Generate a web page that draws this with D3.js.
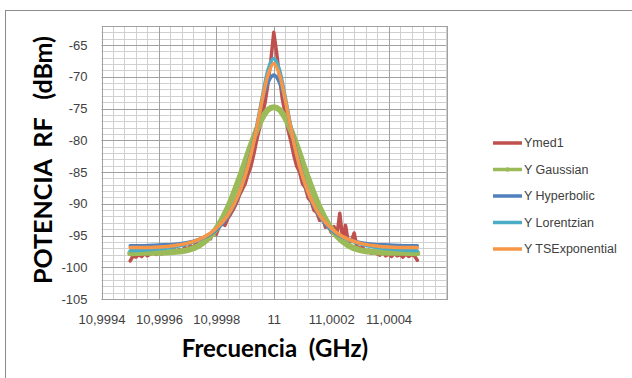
<!DOCTYPE html>
<html>
<head>
<meta charset="utf-8">
<script src="https://cdn.jsdelivr.net/npm/d3@7"></script>
<style>
  html, body { margin: 0; padding: 0; background: #fff; }
  svg { display: block; }
</style>
</head>
<body>
<div id="chart"></div>
<script>
// Measured spectrum (GHz) and level (dBm)
const measFreq = [
  10.99950, 10.99951, 10.99952, 10.99953, 10.99954, 10.99955, 10.99956, 10.99957, 10.99958, 10.99959,
  10.99960, 10.99961, 10.99962, 10.99963, 10.99964, 10.99965, 10.99966, 10.99967, 10.99968, 10.99969,
  10.99970, 10.99971, 10.99972, 10.99973, 10.99974, 10.99975, 10.99976, 10.99977, 10.99978, 10.99979,
  10.99980, 10.99981, 10.99982, 10.99983, 10.99984, 10.99985, 10.99986, 10.99987, 10.99988, 10.99989,
  10.99990, 10.99991, 10.99992, 10.99993, 10.99994, 10.99995, 10.99996, 10.99997, 10.99998, 10.99999,
  11.00000,
  11.00001, 11.00002, 11.00003, 11.00004, 11.00005, 11.00006, 11.00007, 11.00008, 11.00009, 11.00010,
  11.00011, 11.00012, 11.00013, 11.00014, 11.00015, 11.00016, 11.00017, 11.00018, 11.00019, 11.00020,
  11.00021, 11.00022, 11.00023, 11.00024, 11.00025, 11.00026, 11.00027, 11.00028, 11.00029, 11.00030,
  11.00031, 11.00032, 11.00033, 11.00034, 11.00035, 11.00036, 11.00037, 11.00038, 11.00039, 11.00040,
  11.00041, 11.00042, 11.00043, 11.00044, 11.00045, 11.00046, 11.00047, 11.00048, 11.00049, 11.00050
];
const ymed1 = [
  -99.0, -98.2, -98.4, -98.0, -98.3, -97.8, -98.2, -97.9, -97.6, -98.0,
  -97.7, -97.9, -97.4, -97.8, -97.5, -97.0, -97.6, -97.2, -97.5, -96.9,
  -97.1, -96.6, -96.9, -96.2, -96.6, -95.8, -96.1, -95.2, -95.5, -94.4,
  -94.8, -93.6, -93.0, -93.4, -92.3, -91.6, -90.8, -89.9, -88.7, -87.8,
  -86.9, -85.4, -84.2, -82.3, -80.1, -78.2, -76.1, -74.0, -71.0, -67.4,
  -63.0,
  -66.2, -70.0, -73.5, -75.9, -78.4, -80.2, -82.4, -84.1, -85.0, -86.8,
  -87.5, -89.1, -89.6, -91.0, -91.4, -92.6, -92.1, -93.7, -93.2, -94.5,
  -93.6, -95.0, -91.5, -95.6, -93.4, -96.2, -95.9, -94.6, -96.8, -97.0,
  -96.9, -97.5, -97.3, -97.8, -97.5, -97.9, -98.1, -97.6, -98.2, -97.9,
  -98.3, -97.8, -98.2, -98.0, -98.4, -97.9, -98.3, -98.0, -98.2, -98.9
];

// Fitted curves, shared frequency points (GHz)
const fitFreq = [
  10.99950, 10.99955, 10.99960, 10.99965, 10.99970, 10.99974, 10.99978, 10.99981,
  10.99984, 10.99986, 10.99988, 10.99990, 10.99992, 10.99994, 10.99996, 10.99998,
  11.00000,
  11.00002, 11.00004, 11.00006, 11.00008, 11.00010, 11.00012, 11.00014, 11.00016,
  11.00019, 11.00022, 11.00026, 11.00030, 11.00035, 11.00040, 11.00045, 11.00050
];
const yGaussian = [
  -97.8, -97.7, -97.7, -97.6, -97.3, -96.6, -95.1, -93.2,
  -90.6, -88.4, -86.0, -83.4, -80.8, -78.4, -76.5, -75.2,
  -74.8,
  -75.2, -76.5, -78.4, -80.8, -83.4, -86.0, -88.4, -90.6,
  -93.2, -95.1, -96.6, -97.3, -97.6, -97.7, -97.7, -97.8
];
const yHyperbolic = [
  -96.6, -96.6, -96.5, -96.4, -96.1, -95.6, -94.8, -93.7,
  -92.0, -90.4, -88.3, -85.5, -82.1, -78.1, -73.8, -70.9,
  -69.7,
  -70.9, -73.8, -78.1, -82.1, -85.5, -88.3, -90.4, -92.0,
  -93.7, -94.8, -95.6, -96.1, -96.4, -96.5, -96.6, -96.6
];
const yLorentzian = [
  -97.4, -97.3, -97.1, -96.8, -96.3, -95.7, -94.7, -93.5,
  -91.8, -90.2, -88.2, -85.6, -82.3, -78.0, -73.2, -68.9,
  -67.1,
  -68.9, -73.2, -78.0, -82.3, -85.6, -88.2, -90.2, -91.8,
  -93.5, -94.7, -95.7, -96.3, -96.8, -97.1, -97.3, -97.4
];
const yTSExponential = [
  -96.9, -96.9, -96.8, -96.6, -96.2, -95.6, -94.6, -93.4,
  -91.8, -90.2, -88.2, -85.6, -82.3, -78.2, -73.6, -69.7,
  -67.9,
  -69.7, -73.6, -78.2, -82.3, -85.6, -88.2, -90.2, -91.8,
  -93.4, -94.6, -95.6, -96.2, -96.6, -96.8, -96.9, -96.9
];

const seriesNames = ['Ymed1', 'Y Gaussian', 'Y Hyperbolic', 'Y Lorentzian', 'Y TSExponential'];
const seriesColors = ['#C0504D', '#9BBB59', '#4F81BD', '#4BACC6', '#F79646'];

const xTicks = [10.9994, 10.9996, 10.9998, 11, 11.0002, 11.0004];
const yTicks = [-105, -100, -95, -90, -85, -80, -75, -70, -65];

const width = 632, height = 378;
const plot = { left: 101.5, right: 446, top: 26, bottom: 299 };

const svg = d3.select('#chart')
  .append('svg')
  .attr('width', width)
  .attr('height', height);

// chart frame
svg.append('rect')
  .attr('x', 5.5).attr('y', 10.5)
  .attr('width', 700).attr('height', 400)
  .attr('fill', 'none')
  .attr('stroke', '#8c8c8c');

const x = d3.scaleLinear().domain([10.9994, 11.0006]).range([plot.left, plot.right]);
const y = d3.scaleLinear().domain([-105, -62]).range([plot.bottom, plot.top]);

// gridlines: minor first, then major
const grid = svg.append('g');
const xMinor = d3.range(0, 31).map(i => 10.9994 + i * 0.00004);
const yMinor = d3.range(-105, -61, 1);

grid.selectAll('line.xminor')
  .data(xMinor)
  .join('line')
  .attr('x1', d => Math.round(x(d)) + 0.5).attr('x2', d => Math.round(x(d)) + 0.5)
  .attr('y1', plot.top).attr('y2', plot.bottom)
  .attr('stroke', '#d0d0d0');

grid.selectAll('line.yminor')
  .data(yMinor)
  .join('line')
  .attr('y1', d => Math.round(y(d)) + 0.5).attr('y2', d => Math.round(y(d)) + 0.5)
  .attr('x1', plot.left).attr('x2', plot.right)
  .attr('stroke', '#d0d0d0');

grid.selectAll('line.xmajor')
  .data(xTicks)
  .join('line')
  .attr('x1', d => Math.round(x(d)) + 0.5).attr('x2', d => Math.round(x(d)) + 0.5)
  .attr('y1', plot.top).attr('y2', plot.bottom)
  .attr('stroke', '#a0a0a0');

grid.selectAll('line.ymajor')
  .data(yTicks)
  .join('line')
  .attr('y1', d => Math.round(y(d)) + 0.5).attr('y2', d => Math.round(y(d)) + 0.5)
  .attr('x1', plot.left).attr('x2', plot.right)
  .attr('stroke', '#a0a0a0');

// plot area outline
svg.append('rect')
  .attr('x', Math.round(plot.left) + 0.5).attr('y', plot.top + 0.5)
  .attr('width', Math.round(plot.right - plot.left))
  .attr('height', plot.bottom - plot.top)
  .attr('fill', 'none')
  .attr('stroke', '#a0a0a0');

// axes (labels only)
const fmt = d => String(+d.toFixed(4)).replace('.', ',');

const xAxis = svg.append('g')
  .attr('transform', `translate(0,${plot.bottom + 13})`)
  .call(d3.axisBottom(x).tickValues(xTicks).tickFormat(fmt).tickSize(0));
xAxis.select('.domain').remove();

const yAxis = svg.append('g')
  .attr('transform', `translate(${plot.left - 11},0)`)
  .call(d3.axisLeft(y).tickValues(yTicks).tickFormat(d => String(d)).tickSize(0));
yAxis.select('.domain').remove();

svg.selectAll('.tick text')
  .attr('font-family', '"Liberation Sans", Arial, sans-serif')
  .attr('font-size', 13)
  .attr('fill', '#404040');

// series
const meas = measFreq.map((f, i) => ({ f, v: ymed1[i] }));
const fits = [yGaussian, yHyperbolic, yLorentzian, yTSExponential]
  .map(vals => fitFreq.map((f, i) => ({ f, v: vals[i] })));

const lineLin = d3.line().x(d => x(d.f)).y(d => y(d.v));
const lineSmooth = d3.line().x(d => x(d.f)).y(d => y(d.v)).curve(d3.curveMonotoneX);

const seriesG = svg.append('g')
  .attr('fill', 'none')
  .attr('stroke-linejoin', 'round')
  .attr('stroke-linecap', 'round');

seriesG.append('path')
  .attr('d', lineLin(meas))
  .attr('stroke', seriesColors[0])
  .attr('stroke-width', 3.5);

const fitWidths = [6, 3.5, 3.5, 3.5];
fits.forEach((data, i) => {
  seriesG.append('path')
    .attr('d', lineSmooth(data))
    .attr('stroke', seriesColors[i + 1])
    .attr('stroke-width', fitWidths[i]);
});

// legend
const legend = svg.append('g')
  .attr('transform', 'translate(493,143)');

const item = legend.selectAll('g')
  .data(seriesNames)
  .join('g')
  .attr('transform', (d, i) => `translate(0,${i * 26.5})`);

item.append('line')
  .attr('x1', 0).attr('x2', 29)
  .attr('stroke', (d, i) => seriesColors[i])
  .attr('stroke-width', 3.5);

item.filter((d, i) => i === 1)
  .append('circle')
  .attr('cx', 14.5).attr('r', 2.2)
  .attr('fill', seriesColors[1]);

item.append('text')
  .attr('x', 31)
  .attr('dy', '0.35em')
  .attr('font-family', '"Liberation Sans", Arial, sans-serif')
  .attr('font-size', 12.5)
  .attr('fill', '#404040')
  .text(d => d);

// axis titles
svg.append('text')
  .attr('transform', 'translate(52,160) rotate(-90)')
  .attr('text-anchor', 'middle')
  .attr('font-family', 'Lato, "Open Sans", sans-serif')
  .attr('font-weight', 'bold')
  .attr('font-size', 25)
  .attr('fill', '#000')
  .text('POTENCIA\u00a0 RF\u00a0\u00a0 (dBm)');

svg.append('text')
  .attr('x', 275)
  .attr('y', 357)
  .attr('text-anchor', 'middle')
  .attr('font-family', 'Lato, "Open Sans", sans-serif')
  .attr('font-weight', 'bold')
  .attr('font-size', 24)
  .attr('fill', '#000')
  .text('Frecuencia\u00a0\u00a0(GHz)');
</script>
</body>
</html>
